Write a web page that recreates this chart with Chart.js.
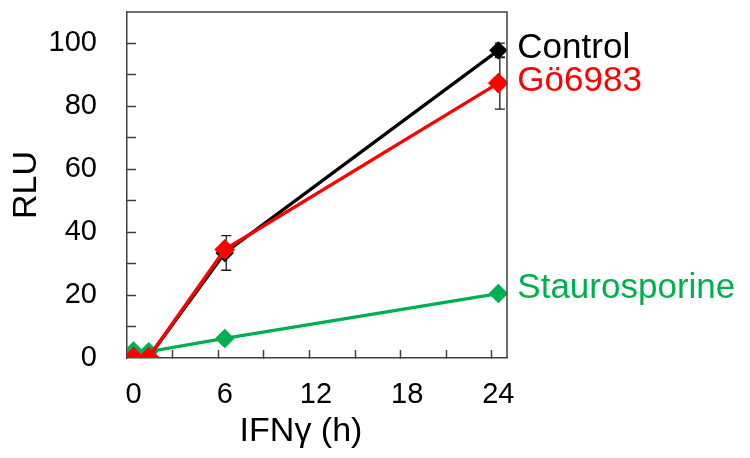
<!DOCTYPE html>
<html><head><meta charset="utf-8">
<script src="https://cdn.jsdelivr.net/npm/chart.js@4/dist/chart.umd.min.js"></script>
<style>html,body{margin:0;padding:0;background:#fff}#wrap{width:750px;height:458px}</style>
</head><body><div id="wrap"><canvas id="c" width="750" height="458"></canvas></div>
<script>
const timeHours = [0, 1, 6, 24];
const controlValues = [0.3, 0.3, 33.4, 97.8];
const controlErrors = [0, 0, 5.5, 2.3];
const go6983Values = [0.3, 0.3, 34.5, 87.4];
const go6983Errors = [0, 0, 1.5, 8.3];
const stauroValues = [2.2, 2.0, 6.2, 20.5];
const stauroErrors = [0, 0, 0.5, 0.8];
const seriesNames = ['Control', 'Gö6983', 'Staurosporine'];
const xTickLabels = [0, 6, 12, 18, 24];
const xTickMarks = [2.57, 5.57, 8.57, 11.57, 14.57, 17.57, 20.57, 23.57];
const yTickLabels = [0, 20, 40, 60, 80, 100];
const yTickMarks = [10, 20, 30, 40, 50, 60, 70, 80, 90, 100];
const xTitle = 'IFNγ (h)';
const yTitle = 'RLU';

const FAMILY = "'Liberation Sans', Arial, sans-serif";
const AXIS = '#404040';
const colors = {control: '#000000', go: '#FF0000', stauro: '#00B050'};

function pts(vals) { return timeHours.map((t, i) => ({x: t, y: vals[i]})); }

const datasets = [
  {label: seriesNames[1], data: pts(go6983Values), errors: go6983Errors, borderColor: colors.go, backgroundColor: colors.go,
   pointBackgroundColor: colors.go, pointRadius: 10.4, pointStyle: 'rectRot', pointBorderWidth: 0, borderWidth: 3.3, order: 1, labelDy: -1.3},
  {label: seriesNames[0], data: pts(controlValues), errors: controlErrors, borderColor: colors.control, backgroundColor: colors.control,
   pointBackgroundColor: colors.control, pointRadius: 9.2, pointStyle: 'rectRot', pointBorderWidth: 0, borderWidth: 3.3, order: 2, labelDy: -2.4},
  {label: seriesNames[2], data: pts(stauroValues), errors: stauroErrors, borderColor: colors.stauro, backgroundColor: colors.stauro,
   pointBackgroundColor: colors.stauro, pointRadius: 9.8, pointStyle: 'rectRot', pointBorderWidth: 0, borderWidth: 3.3, order: 3, labelDy: -5}
];

const decor = {
  id: 'decor',
  beforeDatasetsDraw(chart) {
    const {ctx, scales: {x, y}} = chart;
    ctx.save();
    ctx.strokeStyle = '#1a1a1a';
    ctx.lineWidth = 1.3;
    chart.data.datasets.forEach(ds => {
      ds.data.forEach((p, i) => {
        const e = ds.errors[i];
        if (!e) return;
        const px = x.getPixelForValue(p.x) + 1.5;
        const y1 = y.getPixelForValue(p.y + e), y2 = y.getPixelForValue(p.y - e);
        ctx.beginPath();
        ctx.moveTo(px, y1); ctx.lineTo(px, y2);
        ctx.moveTo(px - 5, y1); ctx.lineTo(px + 5, y1);
        ctx.moveTo(px - 5, y2); ctx.lineTo(px + 5, y2);
        ctx.stroke();
      });
    });
    ctx.restore();
  },
  afterDraw(chart) {
    const {ctx, chartArea: a, scales: {x, y}} = chart;
    ctx.save();
    ctx.strokeStyle = AXIS;
    ctx.lineWidth = 1.5;
    ctx.beginPath();
    ctx.moveTo(a.left, a.top); ctx.lineTo(a.right, a.top); ctx.lineTo(a.right, a.bottom);
    ctx.stroke();
    ctx.font = '35px ' + FAMILY;
    ctx.textBaseline = 'middle';
    ctx.textAlign = 'left';
    chart.data.datasets.forEach(ds => {
      const last = ds.data[ds.data.length - 1];
      ctx.fillStyle = ds.borderColor;
      ctx.fillText(ds.label, x.getPixelForValue(last.x) + 19, y.getPixelForValue(last.y) + ds.labelDy);
    });
    ctx.font = '34px ' + FAMILY;
    ctx.fillStyle = '#000';
    ctx.textAlign = 'center';
    ctx.fillText(xTitle, (a.left + a.right) / 2 - 16, 432);
    ctx.restore();
  }
};

new Chart(document.getElementById('c'), {
  type: 'line',
  data: {datasets},
  plugins: [decor],
  options: {
    responsive: false, animation: false, devicePixelRatio: 1,
    layout: {autoPadding: false, padding: {left: 0, right: 243, top: 12, bottom: 0}},
    plugins: {legend: {display: false}, tooltip: {enabled: false}},
    scales: {
      x: {
        type: 'linear', min: -0.43, max: 24.57,
        afterFit: s => { s.height = 100; s.paddingLeft = 0; s.paddingRight = 0; },
        afterBuildTicks: s => {
          s.ticks = [...xTickLabels, ...xTickMarks].sort((a, b) => a - b).map(v => ({value: v}));
        },
        grid: {drawOnChartArea: false, drawTicks: true, tickLength: -8, tickWidth: 1.5,
          tickColor: c => (c.tick && xTickMarks.includes(c.tick.value)) ? AXIS : 'rgba(0,0,0,0)'},
        border: {display: true, color: AXIS, width: 1.5},
        ticks: {autoSkip: false, maxRotation: 0, minRotation: 0, padding: 28, color: '#000',
          font: {size: 29, family: FAMILY},
          callback: v => xTickLabels.includes(v) ? String(v) : ''}
      },
      y: {
        type: 'linear', min: 0, max: 110,
        afterFit: s => { s.width = 127; s.paddingTop = 0; s.paddingBottom = 0; },
        afterBuildTicks: s => {
          s.ticks = [0, ...yTickMarks, 110].map(v => ({value: v}));
        },
        grid: {drawOnChartArea: false, drawTicks: true, tickLength: -9, tickWidth: 1.5,
          tickColor: c => (c.tick && yTickMarks.includes(c.tick.value)) ? AXIS : 'rgba(0,0,0,0)'},
        border: {display: true, color: AXIS, width: 1.5},
        title: {display: true, text: yTitle, color: '#000', font: {size: 34, family: FAMILY}, padding: {top: 6, bottom: 0}},
        ticks: {autoSkip: false, padding: 39, color: '#000', font: {size: 29, family: FAMILY},
          callback: v => yTickLabels.includes(v) ? String(v) : ''}
      }
    }
  }
});
</script></body></html>
